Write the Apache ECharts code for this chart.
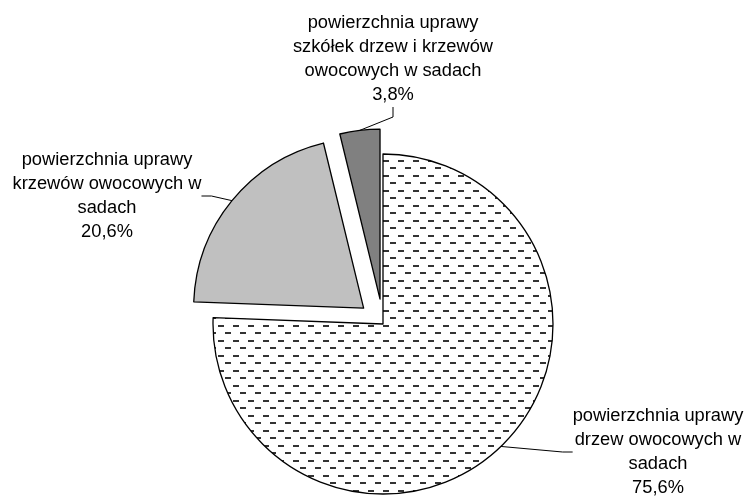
<!DOCTYPE html>
<html>
<head>
<meta charset="utf-8">
<script src="https://cdn.jsdelivr.net/npm/echarts@6/dist/echarts.min.js"></script>
<style>
html,body{margin:0;padding:0;background:#fff;}
#chart{width:747px;height:500px;}
</style>
</head>
<body>
<div id="chart"></div>
<script>
// Data
var categories = [
  'powierzchnia uprawy\ndrzew owocowych w\nsadach',
  'powierzchnia uprawy\nkrzewów owocowych w\nsadach',
  'powierzchnia uprawy\nszkółek drzew i krzewów\nowocowych w sadach'
];
var shares = [75.6, 20.6, 3.8];
var exploded = [false, true, true];

// Styles / layout (not data)
var baseCenter = [383, 324];
var pieRadius = 170;
var explodeOffset = 25;
var labelCenters = [[658, 452], [107, 196], [393, 59]];

function makePattern() {
  var c = document.createElement('canvas');
  c.width = 15; c.height = 15;
  var ctx = c.getContext('2d');
  ctx.fillStyle = '#ffffff';
  ctx.fillRect(0, 0, 15, 15);
  ctx.fillStyle = '#333333';
  ctx.fillRect(0, 2, 6, 2);
  ctx.fillRect(8, 10, 6, 2);
  return c;
}
var fills = [
  { image: makePattern(), repeat: 'repeat' },
  '#c0c0c0',
  '#808080'
];

var total = shares.reduce(function (a, b) { return a + b; }, 0);
var cum = 0;
var series = categories.map(function (cat, i) {
  var mid = 2 * Math.PI * (cum + shares[i] / 2) / total;
  cum += shares[i];
  var off = exploded[i] ? explodeOffset : 0;
  var center = [baseCenter[0] + off * Math.sin(mid), baseCenter[1] - off * Math.cos(mid)];
  return {
    type: 'pie',
    center: center,
    radius: [0, pieRadius],
    startAngle: 90,
    clockwise: true,
    silent: true,
    emphasis: { disabled: true },
    data: categories.map(function (name, j) {
      var own = (j === i);
      return {
        name: name,
        value: shares[j],
        itemStyle: own
          ? { color: fills[j], borderColor: '#000', borderWidth: 1.3 }
          : { color: 'rgba(0,0,0,0)', borderWidth: 0 },
        label: { show: own },
        labelLine: { show: own }
      };
    }),
    label: {
      position: 'outside',
      formatter: function (p) {
        return p.name + '\n' + p.value.toFixed(1).replace('.', ',') + '%';
      },
      fontFamily: 'Liberation Sans, Arial, sans-serif',
      fontSize: 18.3,
      lineHeight: 24,
      color: '#000',
      align: 'center'
    },
    labelLine: {
      length: 10,
      length2: 10,
      lineStyle: { color: '#000', width: 1 }
    },
    labelLayout: function (params) {
      var c = labelCenters[params.dataIndex];
      return { x: c[0], y: c[1], align: 'center', verticalAlign: 'middle' };
    }
  };
});

var chart = echarts.init(document.getElementById('chart'), null, { renderer: 'canvas' });
chart.setOption({
  animation: false,
  backgroundColor: '#ffffff',
  series: series
});
</script>
</body>
</html>
